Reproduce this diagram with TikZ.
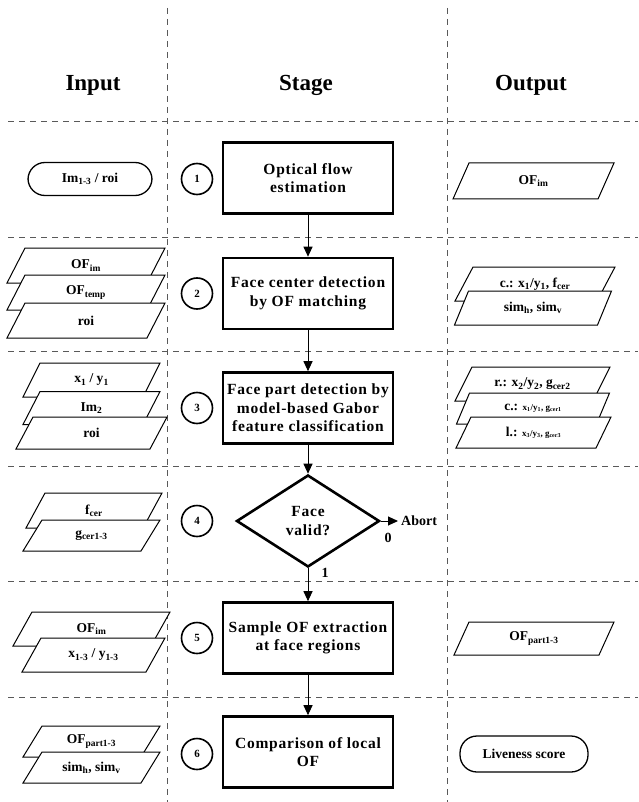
\documentclass[tikz,border=0pt]{standalone}
\usepackage{fontspec}
\setmainfont{Liberation Serif}
\usetikzlibrary{shapes.geometric,arrows.meta}
\newcommand{\stagefont}{\fontsize{15.5}{18.5}\selectfont\bfseries\addfontfeature{LetterSpace=5}}
\newcommand{\smalltxt}{\fontsize{13.5}{15}\selectfont\bfseries}
\newcommand{\pgramnode}[7]{%
  \filldraw[pgramline] ({#2-#4/2+#6/2},{#3-#5/2}) -- ({#2+#4/2+#6/2},{#3-#5/2}) -- ({#2+#4/2-#6/2},{#3+#5/2}) -- ({#2-#4/2-#6/2},{#3+#5/2}) -- cycle;
  \node[ptext] (#1) at (#2,#3) {#7};}
\tikzset{
  sep/.style={dash pattern=on 6pt off 5pt, line width=1pt, black!65},
  stagebox/.style={draw, line width=2.6pt, minimum width=170pt, minimum height=71pt, inner sep=0pt, align=center, font=\stagefont},
  pgramline/.style={draw=black, fill=white, line width=1pt},
  ptext/.style={inner sep=0pt, font=\smalltxt},
  termnode/.style={draw, line width=1.3pt, rounded corners=17pt, inner sep=0pt, font=\smalltxt},
  numc/.style={draw, circle, line width=1.6pt, minimum size=31pt, inner sep=0pt, font=\fontsize{11}{12}\selectfont\bfseries},
  head/.style={font=\fontsize{23}{26}\selectfont\bfseries, inner sep=0pt},
  flow/.style={line width=1pt, -{Triangle[length=10pt,width=9pt]}},
  lbl/.style={font=\fontsize{14}{16}\selectfont\bfseries, inner sep=0pt}
}
\begin{document}
\begin{tikzpicture}[x=1pt,y=-1pt]
\useasboundingbox (0,0) rectangle (638,802);
\fill[white] (0,0) rectangle (638,802);

% separators
\foreach \yy in {122,237,351,466,581,697} \draw[sep] (8,\yy) -- (638,\yy);
\draw[sep] (167,8) -- (167,802);
\draw[sep] (447,8) -- (447,802);

% headers
\node[head] (hin) at (93,85) {Input};
\node[head] (hst) at (306,85) {Stage};
\node[head] (hout) at (531,85) {Output};

% stage boxes
\node[stagebox] (b1) at (308,178) {Optical flow\\estimation};
\node[stagebox] (b2) at (308,293.5) {Face center detection\\by OF matching};
\node[stagebox] (b3) at (308,408) {Face part detection by\\model-based Gabor\\feature classification};
\node[draw, diamond, line width=2.6pt, minimum width=143pt, minimum height=92pt, inner sep=0pt, align=center, font=\stagefont] (dia) at (308,521) {Face\\valid?};
\node[stagebox] (b5) at (308,638) {Sample OF extraction\\at face regions};
\node[stagebox] (b6) at (308,752) {Comparison of local\\OF};

\draw[flow] (b1) -- (b2);
\draw[flow] (b2) -- (b3);
\draw[flow] (b3) -- (dia);
\draw[flow] (dia) -- (b5);
\draw[flow] (b5) -- (b6);
\node[lbl, anchor=west, inner sep=3pt] (abort) at (398,521) {Abort};
\draw[flow] (dia.east) -- (abort.west);
\node[lbl] (l0) at (388,538) {0};
\node[lbl] (l1) at (325,573) {1};

% step numbers
\node[numc] (n1) at (197,179) {1};
\node[numc] (n2) at (197,293.5) {2};
\node[numc] (n3) at (197,408) {3};
\node[numc] (n4) at (197,521) {4};
\node[numc] (n5) at (197,638) {5};
\node[numc] (n6) at (197,754) {6};

% inputs
\node[termnode, minimum width=124pt, minimum height=33pt] (in1) at (90,179) {Im\textsubscript{1-3} / roi};

\pgramnode{in2a}{86}{265.5}{140}{35}{18}{OF\textsubscript{im}}
\pgramnode{in2b}{86}{292.5}{140}{35}{18}{OF\textsubscript{temp}}
\pgramnode{in2c}{86}{320.5}{140}{35}{18}{roi}

\pgramnode{in3a}{91.5}{380}{120}{34}{17}{x\textsubscript{1} / y\textsubscript{1}}
\pgramnode{in3b}{91.5}{408}{120}{33}{17}{Im\textsubscript{2}}
\pgramnode{in3c}{91.5}{433}{134}{32}{17}{roi}

\pgramnode{in4a}{94}{510.5}{117}{35}{19}{f\textsubscript{cer}}
\pgramnode{in4b}{91.5}{535.5}{118}{31}{19}{g\textsubscript{cer1-3}}

\pgramnode{in5a}{91.5}{629}{138}{34}{19}{OF\textsubscript{im}}
\pgramnode{in5b}{93.5}{655}{124}{34}{19}{x\textsubscript{1-3} / y\textsubscript{1-3}}

\pgramnode{in6a}{91.5}{741.5}{118}{31}{19}{OF\textsubscript{part1-3}}
\pgramnode{in6b}{91.5}{767.5}{118}{31}{19}{sim\textsubscript{h}, sim\textsubscript{v}}

% outputs
\pgramnode{out1}{533.5}{181}{145}{36}{16}{OF\textsubscript{im}}

\pgramnode{out2a}{535}{284}{142}{34}{18}{c.: x\textsubscript{1}/y\textsubscript{1}, f\textsubscript{cer}}
\pgramnode{out2b}{533}{308}{143}{34}{14}{sim\textsubscript{h}, sim\textsubscript{v}}

\pgramnode{out3a}{532.5}{384}{138}{34}{17}{r.: x\textsubscript{2}/y\textsubscript{2}, g\textsubscript{cer2}}
\pgramnode{out3b}{533}{408.5}{140}{31}{13}{c.: {\fontsize{9}{10}\selectfont x\textsubscript{1}/y\textsubscript{1}, g\textsubscript{cer1}}}
\pgramnode{out3c}{533.5}{432.5}{140}{31}{15}{l.: {\fontsize{9}{10}\selectfont x\textsubscript{3}/y\textsubscript{3}, g\textsubscript{cer3}}}

\pgramnode{out5}{534}{638.5}{145}{33}{15}{OF\textsubscript{part1-3}}

\node[termnode, minimum width=128pt, minimum height=36pt] (out6) at (524,754) {Liveness score};
\end{tikzpicture}
\end{document}
